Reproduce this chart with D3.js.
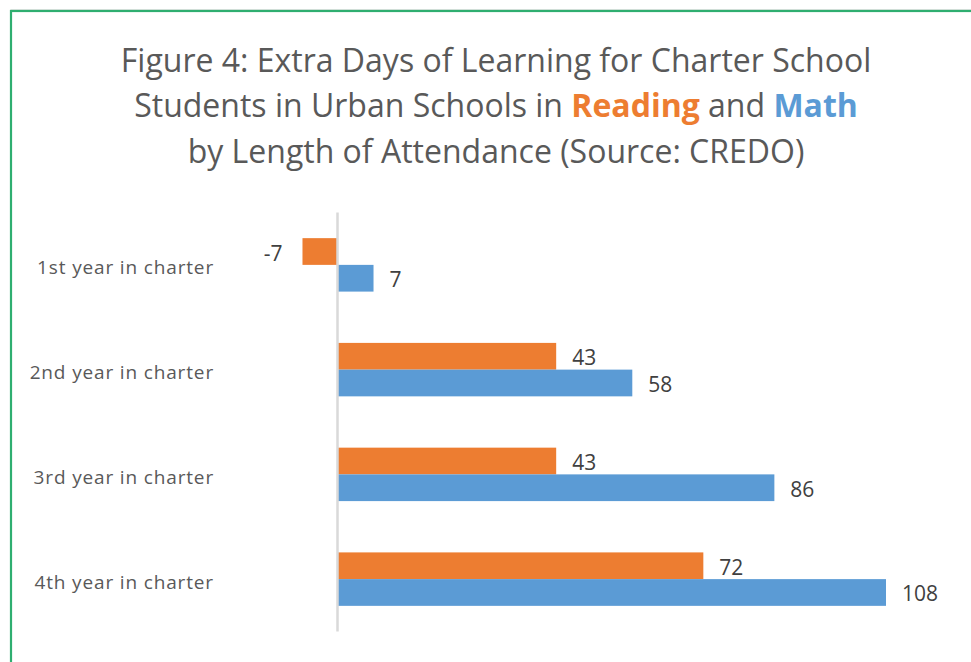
<!DOCTYPE html>
<html>
<head>
<meta charset="utf-8">
<script src="https://cdn.jsdelivr.net/npm/d3@7"></script>
<style>
  html, body { margin: 0; padding: 0; background: #ffffff; }
  svg { display: block; }
</style>
</head>
<body>
<svg id="chart" width="971" height="662"></svg>
<script>
// ---- data ----
const categories = ["1st year in charter", "2nd year in charter", "3rd year in charter", "4th year in charter"];
const seriesNames = ["Reading", "Math"];
const readingValues = [-7, 43, 43, 72];
const mathValues = [7, 58, 86, 108];
const titleLines = [
  [{t: "Figure 4: Extra Days of Learning for Charter School"}],
  [{t: "Students in Urban Schools in "}, {t: "Reading", s: "Reading"}, {t: " and "}, {t: "Math", s: "Math"}],
  [{t: "by Length of Attendance (Source: CREDO)"}]
];

// ---- styling ----
const colors = {Reading: "#ed7d31", Math: "#5b9bd5"};
const FONT = "'Open Sans', Lato, sans-serif";

const svg = d3.select("#chart");

// frame
svg.append("rect").attr("x", 11).attr("y", 9.5).attr("width", 1000).attr("height", 700)
  .attr("fill", "none").attr("stroke", "#e4e4e4").attr("stroke-width", 1);
svg.append("rect").attr("x", 11).attr("y", 11).attr("width", 1000).attr("height", 700)
  .attr("fill", "#ffffff").attr("stroke", "#2fae70").attr("stroke-width", 2.2);

// title
const title = svg.append("text")
  .attr("text-anchor", "middle")
  .attr("font-family", FONT)
  .attr("font-size", 32)
  .attr("fill", "#595959");
const baselines = [72, 117, 163];
titleLines.forEach((line, i) => {
  const tl = title.append("tspan").attr("x", 496).attr("y", baselines[i]);
  line.forEach(seg => {
    const sp = tl.append("tspan").text(seg.t);
    if (seg.s) sp.attr("fill", colors[seg.s]).attr("font-weight", "bold");
  });
});

// scales
const y = d3.scaleBand().domain(categories).range([212.5, 631.5]).paddingInner(0).paddingOuter(0);
const ySub = d3.scaleBand().domain(seriesNames).range([0, y.bandwidth()]).paddingInner(0).paddingOuter(0.96);
const x = d3.scaleLinear().domain([0, 108]).range([338, 886]);

const rows = categories.map((c, i) => ({cat: c, Reading: readingValues[i], Math: mathValues[i]}));

const g = svg.append("g");
const groups = g.selectAll("g.cat").data(rows).join("g")
  .attr("class", "cat")
  .attr("transform", d => `translate(0,${y(d.cat)})`);

const bars = groups.selectAll("g.bar")
  .data(d => seriesNames.map(s => ({s, v: d[s]})))
  .join("g").attr("class", "bar");

bars.append("rect")
  .attr("x", d => Math.min(x(0), x(d.v)))
  .attr("y", d => ySub(d.s))
  .attr("width", d => Math.abs(x(d.v) - x(0)))
  .attr("height", ySub.bandwidth())
  .attr("fill", d => colors[d.s]);

bars.append("text")
  .attr("x", d => d.v >= 0 ? x(d.v) + 16 : x(d.v) - 20)
  .attr("y", d => ySub(d.s) + ySub.bandwidth() / 2 + 1)
  .attr("dominant-baseline", "central")
  .attr("text-anchor", d => d.v >= 0 ? "start" : "end")
  .attr("font-family", FONT)
  .attr("font-size", 21)
  .attr("fill", "#404040")
  .text(d => d.v);

// axis line at zero
const yr = y.range();
svg.append("line")
  .attr("x1", x(0) - 0.5).attr("x2", x(0) - 0.5)
  .attr("y1", yr[0]).attr("y2", yr[1])
  .attr("stroke", "#d9d9d9").attr("stroke-width", 2.5);

// category labels
svg.append("g").selectAll("text").data(categories).join("text")
  .attr("x", 214)
  .attr("y", d => y(d) + y.bandwidth() / 2 + 2.5)
  .attr("dominant-baseline", "central")
  .attr("text-anchor", "end")
  .attr("font-family", FONT)
  .attr("font-size", 19)
  .attr("letter-spacing", 0.85)
  .attr("fill", "#595959")
  .text(d => d);
</script>
</body>
</html>
